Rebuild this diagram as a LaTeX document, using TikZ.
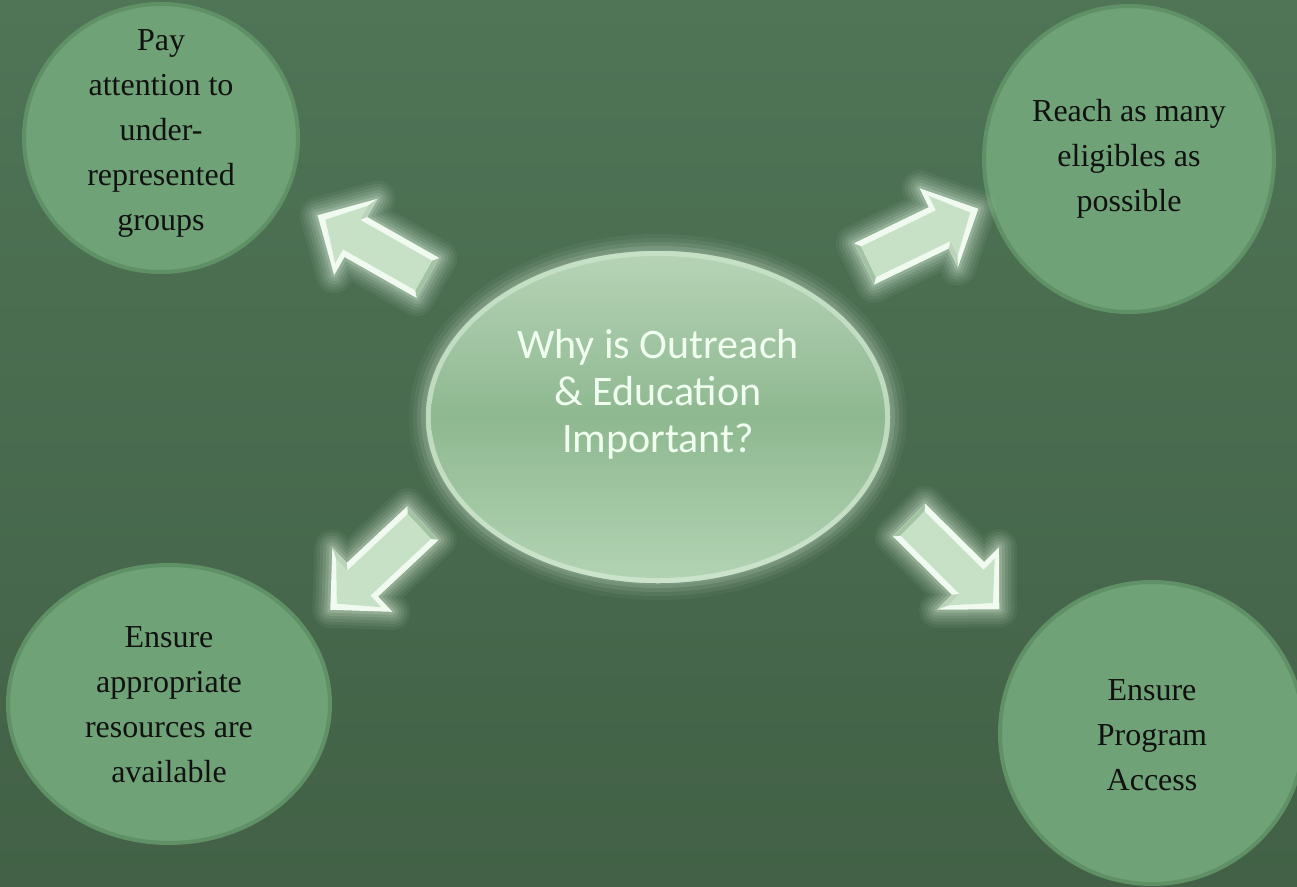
\documentclass[tikz,border=0pt]{standalone}
\usepackage{fontspec}
\setmainfont{Liberation Serif}
\newfontfamily\hubfont{Carlito}
\usetikzlibrary{shapes.geometric}
\definecolor{bgtop}{HTML}{4F7456}
\definecolor{bgmid}{HTML}{4A6D4F}
\definecolor{bgbot}{HTML}{426146}
\definecolor{circfill}{HTML}{6FA276}
\definecolor{circedge}{HTML}{5F9066}
\definecolor{txt}{HTML}{111111}
\definecolor{hubrim}{HTML}{7E9A80}
\definecolor{hubpale}{HTML}{C6E0C6}
\definecolor{hubtop}{HTML}{B6D3B6}
\definecolor{hubmid}{HTML}{8EB890}
\definecolor{hubbot}{HTML}{B2D3B2}
\definecolor{arrmain}{HTML}{C6E1C6}
\definecolor{arrlight}{HTML}{F0FAF0}
\definecolor{arrdark}{HTML}{A3C3A3}
\definecolor{glowc}{HTML}{DDF0DD}
\begin{document}
\begin{tikzpicture}[x=1pt,y=-1pt,
  bubble/.style={ellipse, draw=circedge, line width=4pt, fill=circfill, inner sep=0pt},
  btext/.style={align=center, text=txt, inner sep=0pt, font=\fontsize{32}{45}\selectfont},
  blockarrow/.pic={
    \foreach \w/\o in {36/0.06,30/0.07,24/0.09,18/0.11,12/0.14,6/0.2}
      \draw[glowc, line width=\w pt, opacity=\o, line join=round] (0,-23) -- (83,-23) -- (83,-44) -- (127,0) -- (83,44) -- (83,23) -- (0,23) -- cycle;
    \fill[arrlight] (0,-23) -- (83,-23) -- (83,-44) -- (127,0) -- (83,44) -- (83,23) -- (0,23) -- cycle;
    \fill[arrdark] (0,-23) -- (5,-17) -- (5,17) -- (0,23) -- cycle;
    \fill[arrdark!70!arrlight] (83,23) -- (88,17) -- (88,33) -- (83,44) -- cycle;
    \fill[arrmain] (5,-17) -- (88,-17) -- (88,-33) -- (118,0) -- (88,33) -- (88,17) -- (5,17) -- cycle;
  }]
\useasboundingbox (0,0) rectangle (1297,886);
\shade[top color=bgtop, middle color=bgmid, bottom color=bgbot] (0,0) rectangle (1297,886);

% outer bubbles
\node[bubble, minimum width=274pt, minimum height=268pt] (b1) at (161,138) {};
\node[btext] (t1) at (161,133) {Pay\\attention to\\under-\\represented\\groups};
\node[bubble, minimum width=290pt, minimum height=306pt] (b2) at (1129,159) {};
\node[btext] (t2) at (1129,159) {Reach as many\\eligibles as\\possible};
\node[bubble, minimum width=322pt, minimum height=278pt] (b3) at (169,704) {};
\node[btext] (t3) at (169,705) {Ensure\\appropriate\\resources are\\available};
\node[bubble, minimum width=304pt, minimum height=302pt] (b4) at (1152,733) {};
\node[btext] (t4) at (1152,735) {Ensure\\Program\\Access};

% hub glow
\foreach \g/\o in {16/0.05,12/0.07,8/0.1,4/0.14}
  \fill[glowc, opacity=\o] (658,417) ellipse ({233+\g} and {167+\g});
\node[ellipse, minimum width=466pt, minimum height=334pt, inner sep=0pt, draw=hubrim, line width=1.5pt,
      top color=hubpale, bottom color=hubpale!90!white, middle color=hubpale!85!hubmid] (hub) at (658,417) {};
\shade[top color=hubtop, bottom color=hubbot, middle color=hubmid] (hub.center) ellipse (227 and 161);
\node[align=center, text=white!94!green, font=\hubfont\fontsize{42}{47}\selectfont] (hubtext)
  at ([yshift=23pt]hub.center) {Why is Outreach\\\& Education\\Important?};

% block arrows
\coordinate (a1) at (428,278);
\coordinate (a2) at (864,264);
\coordinate (a3) at (423,523);
\coordinate (a4) at (909,520);
\pic[rotate=150.4] at (a1) {blockarrow};
\pic[rotate=25.8] at (a2) {blockarrow};
\pic[rotate=223.1] at (a3) {blockarrow};
\pic[rotate=-44.7] at (a4) {blockarrow};
\end{tikzpicture}
\end{document}
